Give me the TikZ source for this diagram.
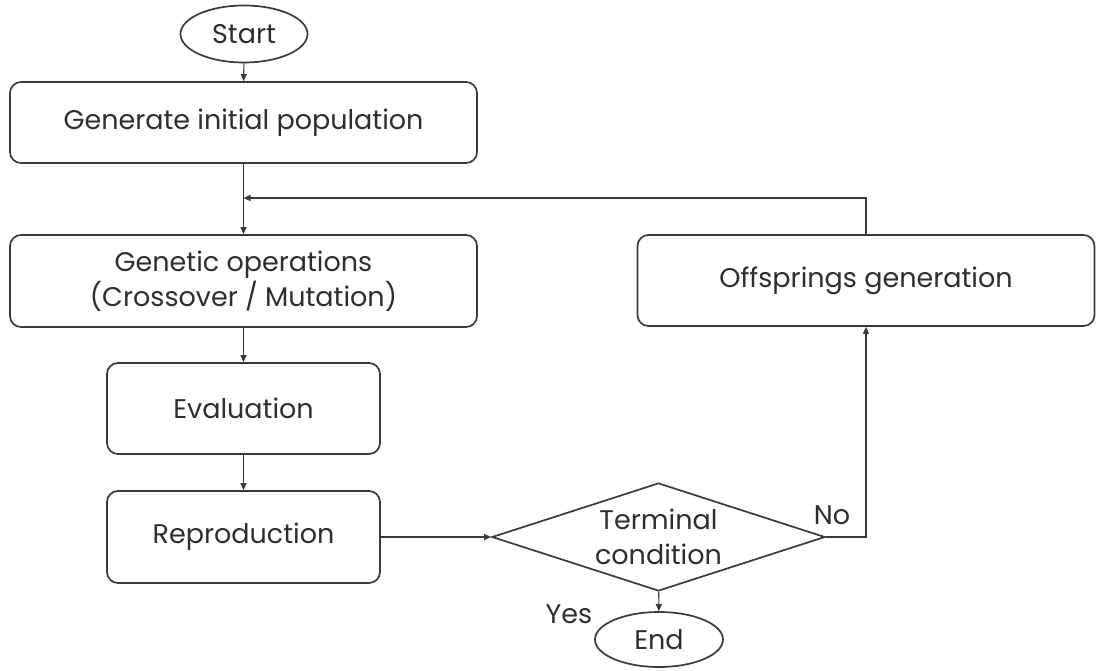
\documentclass[tikz,border=0pt]{standalone}
\usepackage{fontspec}
\setmainfont{Poppins}
\usetikzlibrary{shapes.geometric,arrows.meta,calc}
\definecolor{lc}{HTML}{3A3A3A}
\definecolor{tc}{HTML}{2E2E2E}
\begin{document}
\begin{tikzpicture}[x=1pt,y=-1pt,
  boxstyle/.style={draw=lc, line width=1.7pt, rounded corners=11pt, inner sep=0pt,
    align=center, text=tc, font=\fontsize{27}{35}\selectfont},
  termstyle/.style={ellipse, draw=lc, line width=1.7pt, inner sep=0pt,
    text=tc, font=\fontsize{27}{35}\selectfont},
  decstyle/.style={diamond, aspect=3.08, draw=lc, line width=1.7pt, inner sep=0pt, align=center,
    text=tc, font=\fontsize{27}{35}\selectfont},
  labstyle/.style={text=tc, inner sep=0pt, font=\fontsize{27}{30}\selectfont},
  conn/.style={draw=lc, line width=1.1pt, -{Triangle[length=7pt,width=6pt]}}]
\useasboundingbox (0,0) rectangle (1096,670);
\node[termstyle, minimum width=127pt, minimum height=57pt] (start) at (244,34) {Start};
\node[boxstyle, minimum width=467pt, minimum height=81pt] (gen) at (243.5,122.5) {Generate initial population};
\node[boxstyle, minimum width=467pt, minimum height=92pt] (ops) at (243.5,281) {Genetic operations\\(Crossover / Mutation)};
\node[boxstyle, minimum width=273pt, minimum height=91pt] (eval) at (243.5,408.5) {Evaluation};
\node[boxstyle, minimum width=273pt, minimum height=92pt] (rep) at (243.5,537) {Reproduction};
\node[decstyle, minimum width=333pt, minimum height=108pt] (cond) at (658.5,537) {Terminal\\condition};
\node[termstyle, minimum width=128pt, minimum height=55pt] (end) at (659,639.5) {End};
\node[boxstyle, minimum width=457pt, minimum height=91pt] (off) at (866,280.5) {Offsprings generation};
\coordinate (junc) at (243.5,198);
\node[labstyle] (no) at (832,515) {No};
\node[labstyle] (yes) at (569,614) {Yes};
\draw[conn] (start) -- (gen);
\draw[conn] (gen) -- (ops);
\draw[conn] (ops) -- (eval);
\draw[conn] (eval) -- (rep);
\draw[conn] (rep) -- (cond);
\draw[conn] (cond) -- (end);
\draw[conn] (cond.east) -| (off.south);
\draw[conn] (off.north) |- (junc);
\end{tikzpicture}
\end{document}
